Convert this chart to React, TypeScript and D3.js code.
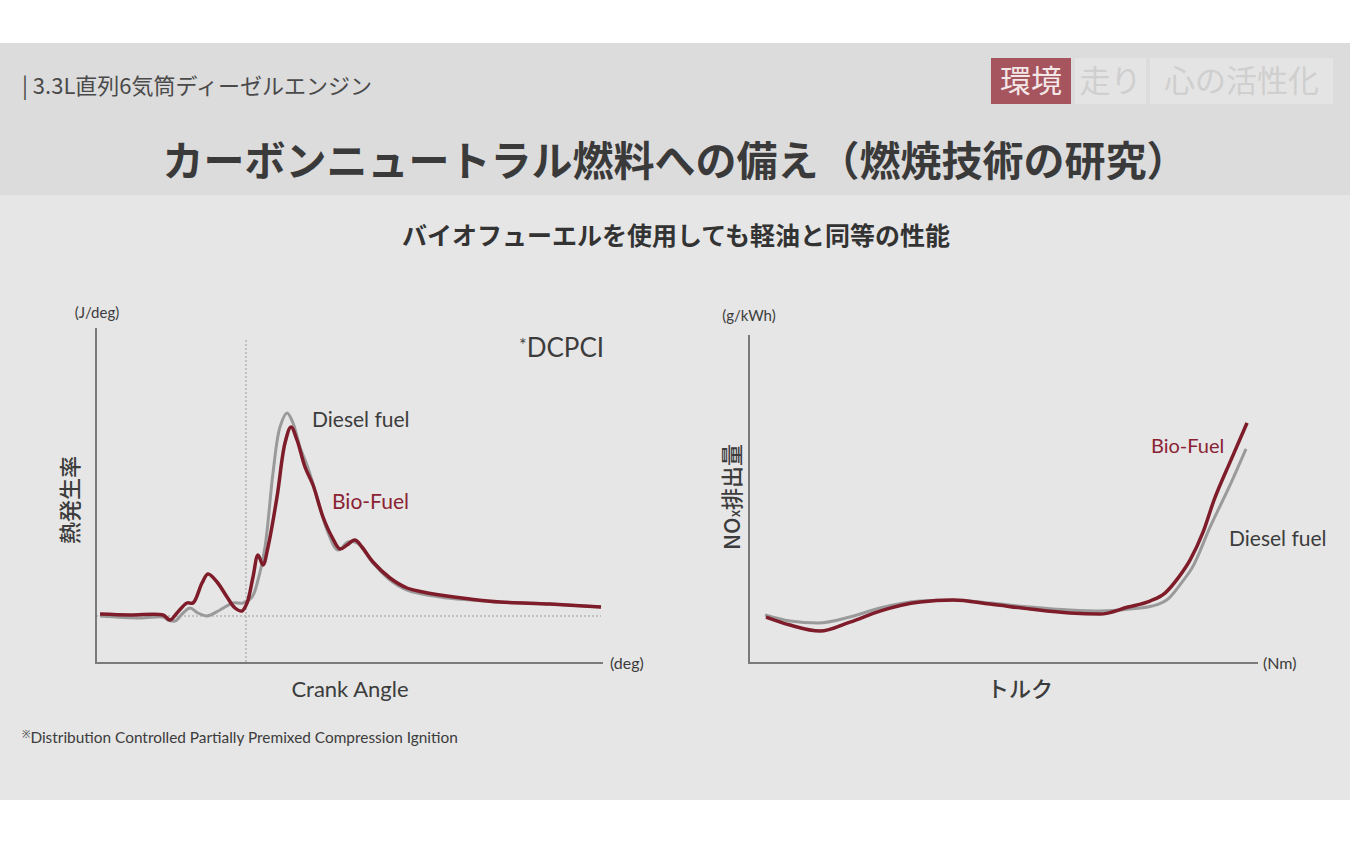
import React from "react";
import * as d3 from "d3";

// ---- Left chart: heat release rate vs crank angle (deg, J/deg) ----
const bioAngle = [-29.2, -23.2, -16.6, -15.2, -13.8, -11.8, -10.6, -8.8, -7.6, -5.8, -3.8, -2.2, -0.8, 0.2, 1.4, 2.4, 3.4, 4.4, 6.2, 7.8, 9.0, 10.2, 11.8, 13.4, 15.4, 17.2, 18.8, 20.2, 21.8, 23.2, 25.4, 28.8, 32.2, 35.4, 38.8, 44.8, 50.8, 60.8, 71.0];
const bioHeat = [0.8, 0.4, 0.4, -1.6, 1.2, 5.2, 5.2, 13.2, 16.8, 13.6, 7.6, 3.2, 2.0, 5.2, 15.6, 24.4, 20.4, 27.6, 47.6, 69.2, 75.6, 70.4, 59.6, 52.4, 39.6, 31.6, 26.8, 28.4, 30.4, 27.6, 21.6, 15.2, 11.2, 9.6, 8.4, 6.8, 5.6, 4.8, 3.6];
const dieselAngle = [-29.2, -21.2, -16.6, -15.6, -14.2, -12.6, -11.2, -9.6, -7.8, -5.2, -2.6, -0.6, 1.2, 2.4, 3.8, 5.4, 6.8, 8.2, 9.4, 10.8, 12.4, 14.2, 16.2, 18.4, 20.4, 22.2, 25.4, 28.8, 32.2, 38.8, 44.8, 50.8, 60.8, 71.0];
const dieselHeat = [0, -0.8, -0.4, -1.6, -2.0, 1.2, 3.2, 1.2, 0, 2.4, 5.2, 5.2, 7.6, 14.4, 27.6, 57.2, 75.6, 81.2, 77.2, 67.6, 59.2, 47.6, 34.4, 26.4, 29.6, 29.2, 21.2, 14.4, 10.4, 7.6, 6.4, 5.6, 4.8, 3.6];
const angleDomain = [-30, 71];
const heatDomain = [-18.8, 114.4];

// ---- Right chart: NOx vs torque (Nm, g/kWh) ----
const bioTorque = [16.7, 40.3, 69.7, 99.2, 128.7, 168, 200.4, 236.7, 276, 315.3, 344.8, 372.3, 393.9, 408.6, 421.4, 433.2, 446, 456.8, 473.5, 489.2];
const bioNox = [1.38, 1.14, 0.96, 1.23, 1.56, 1.83, 1.89, 1.77, 1.62, 1.50, 1.47, 1.68, 1.86, 2.10, 2.55, 3.09, 3.93, 4.89, 6.10, 7.21];
const dieselTorque = [15.7, 40.3, 67.8, 99.2, 128.7, 168, 200.4, 236.7, 276, 315.3, 344.8, 374.3, 395.9, 412.6, 425.4, 435.2, 452.9, 473.5, 488.2];
const dieselNox = [1.44, 1.26, 1.20, 1.38, 1.65, 1.86, 1.89, 1.80, 1.68, 1.59, 1.56, 1.62, 1.71, 1.95, 2.43, 2.85, 4.08, 5.41, 6.43];
const torqueDomain = [0, 500];
const noxDomain = [0, 10];

const tags = ["環境", "走り", "心の活性化"];

const JP = '"Noto Sans CJK JP", "Noto Sans", sans-serif';
const EN = 'Lato, "Open Sans", "Noto Sans", sans-serif';
const RED = "#7e1c2a";
const GRAY = "#9a9a9a";
const AXIS = "#7a7a7a";
const TEXT = "#3c3c3c";

function zip(xs: number[], ys: number[]) {
  return xs.map((x, i) => [x, ys[i]] as [number, number]);
}

export default function App() {
  const lx = d3.scaleLinear().domain(angleDomain).range([96, 601]);
  const ly = d3.scaleLinear().domain(heatDomain).range([663, 330]);
  const lLine = d3.line<[number, number]>().x(d => lx(d[0])).y(d => ly(d[1])).curve(d3.curveCatmullRom.alpha(0.5));
  const rx = d3.scaleLinear().domain(torqueDomain).range([749, 1258]);
  const ry = d3.scaleLinear().domain(noxDomain).range([663, 330]);
  const rLine = d3.line<[number, number]>().x(d => rx(d[0])).y(d => ry(d[1])).curve(d3.curveMonotoneX);

  const tagBoxes = [
    { x: 991, w: 80, fill: "#a6545d", color: "#f3e6e7" },
    { x: 1075, w: 71, fill: "#e4e4e4", color: "#cfcfcf" },
    { x: 1150, w: 183, fill: "#e4e4e4", color: "#cfcfcf" },
  ];

  return (
    <svg width={1350} height={844} style={{ position: "fixed", left: 0, top: 0, display: "block" }}>
      <rect x={0} y={0} width={1350} height={844} fill="#ffffff" />
      <rect x={0} y={43} width={1350} height={152} fill="#dcdcdc" />
      <rect x={0} y={195} width={1350} height={605} fill="#e6e6e6" />

      {/* header */}
      <text x={22} y={94} fontFamily={JP} fontSize={22} fill="#4a4a4a">| 3.3L直列6気筒ディーゼルエンジン</text>
      {tags.map((t, i) => (
        <g key={t}>
          <rect x={tagBoxes[i].x} y={58} width={tagBoxes[i].w} height={46} fill={tagBoxes[i].fill} />
          <text x={tagBoxes[i].x + tagBoxes[i].w / 2} y={92} textAnchor="middle" fontFamily={JP} fontSize={31} fill={tagBoxes[i].color}>{t}</text>
        </g>
      ))}
      <text x={675} y={176} textAnchor="middle" fontFamily={JP} fontWeight={700} fontSize={41} fill="#3a3a3a">カーボンニュートラル燃料への備え（燃焼技術の研究）</text>
      <text x={676} y={245} textAnchor="middle" fontFamily={JP} fontWeight={700} fontSize={25} fill="#333">バイオフューエルを使用しても軽油と同等の性能</text>

      {/* left chart */}
      <line x1={lx(0)} x2={lx(0)} y1={340} y2={663} stroke="#9a9a9a" strokeWidth={1} strokeDasharray="2,2" />
      <line x1={96} x2={601} y1={ly(0)} y2={ly(0)} stroke="#9a9a9a" strokeWidth={1} strokeDasharray="2,2" />
      <line x1={96} x2={96} y1={328} y2={664} stroke={AXIS} strokeWidth={2} />
      <line x1={95} x2={603} y1={663} y2={663} stroke={AXIS} strokeWidth={2} />
      <path d={lLine(zip(dieselAngle, dieselHeat)) || ""} fill="none" stroke={GRAY} strokeWidth={3} strokeLinejoin="round" />
      <path d={lLine(zip(bioAngle, bioHeat)) || ""} fill="none" stroke={RED} strokeWidth={3.5} strokeLinejoin="round" />
      <text x={97} y={318} textAnchor="middle" fontFamily={EN} fontSize={15} fill={TEXT}>(J/deg)</text>
      <text x={610} y={669} fontFamily={EN} fontSize={16} fill={TEXT}>(deg)</text>
      <text x={350} y={697} textAnchor="middle" fontFamily={EN} fontSize={22} fill={TEXT}>Crank Angle</text>
      <text transform="translate(78,500) rotate(-90)" textAnchor="middle" fontFamily={JP} fontWeight={500} fontSize={22} fill={TEXT}>熱発生率</text>
      <text x={519} y={357} fontFamily={EN} fontSize={26} fill={TEXT}><tspan fontSize={18} dy={-6}>*</tspan><tspan dy={6}>DCPCI</tspan></text>
      <text x={312} y={427} fontFamily={EN} fontSize={21} fill={TEXT}>Diesel fuel</text>
      <text x={332} y={509} fontFamily={EN} fontSize={21} fill="#8a2233">Bio-Fuel</text>

      {/* right chart */}
      <line x1={749} x2={749} y1={335} y2={664} stroke={AXIS} strokeWidth={2} />
      <line x1={748} x2={1258} y1={663} y2={663} stroke={AXIS} strokeWidth={2} />
      <path d={rLine(zip(dieselTorque, dieselNox)) || ""} fill="none" stroke={GRAY} strokeWidth={3} strokeLinejoin="round" />
      <path d={rLine(zip(bioTorque, bioNox)) || ""} fill="none" stroke={RED} strokeWidth={3.5} strokeLinejoin="round" />
      <text x={749} y={321} textAnchor="middle" fontFamily={EN} fontSize={15} fill={TEXT}>(g/kWh)</text>
      <text x={1263} y={669} fontFamily={EN} fontSize={16} fill={TEXT}>(Nm)</text>
      <text x={1020} y={697} textAnchor="middle" fontFamily={JP} fontWeight={500} fontSize={22} fill={TEXT}>トルク</text>
      <text transform="translate(740,497) rotate(-90)" textAnchor="middle" fontFamily={JP} fontWeight={500} fontSize={22} fill={TEXT}>NO<tspan fontSize={14}>x</tspan>排出量</text>
      <text x={1151} y={453} fontFamily={EN} fontSize={20} fill="#8a2233">Bio-Fuel</text>
      <text x={1229} y={546} fontFamily={EN} fontSize={21} fill={TEXT}>Diesel fuel</text>

      {/* footnote */}
      <text x={22} y={743} fontFamily={EN} fontSize={15.4} fill={TEXT}><tspan fontSize={10} dy={-5}>※</tspan><tspan dy={5}>Distribution Controlled  Partially Premixed Compression Ignition</tspan></text>
    </svg>
  );
}
